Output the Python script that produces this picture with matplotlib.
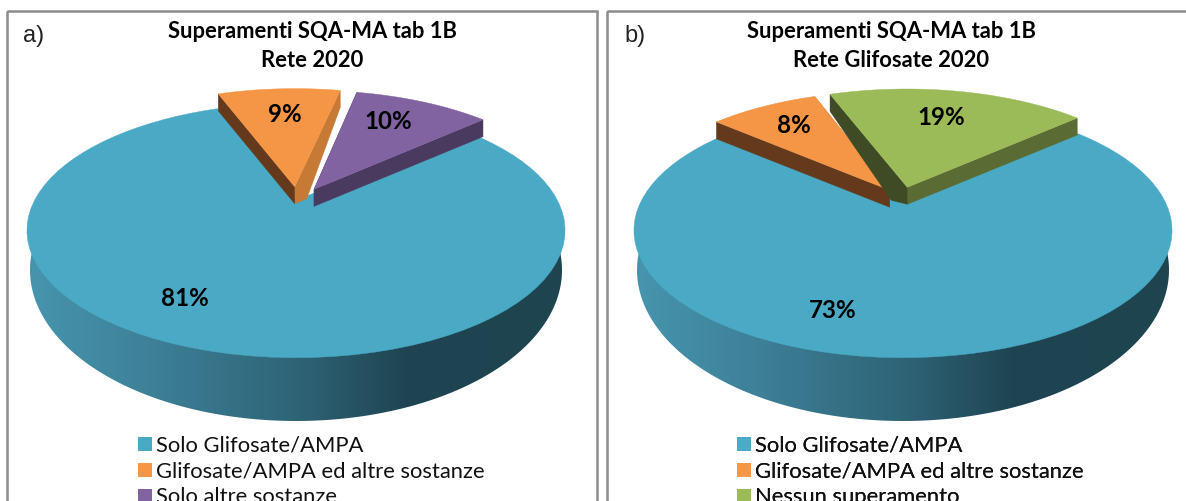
import matplotlib
matplotlib.use('Agg')
import numpy as np
from matplotlib import pyplot as plt
from matplotlib.colors import LinearSegmentedColormap
from matplotlib.patches import Polygon, Rectangle
from matplotlib.lines import Line2D

# data
labels_a = ['Solo Glifosate/AMPA', 'Glifosate/AMPA ed altre sostanze', 'Solo altre sostanze']
values_a = [81, 9, 10]
labels_b = ['Solo Glifosate/AMPA', 'Glifosate/AMPA ed altre sostanze', 'Nessun superamento']
values_b = [73, 8, 19]
title_a = 'Superamenti SQA-MA tab 1B\nRete 2020'
title_b = 'Superamenti SQA-MA tab 1B\nRete Glifosate 2020'

# top colour, left wall colour, right wall colour
BLUE = '#4AA9C4'
ORANGE = ('#F49645', '#653A1C', '#C67A36')
PURPLE = ('#8063A0', '#4B3A60', '#4B3A60')
GREEN = ('#9BBB59', '#3F4B24', '#5A6B33')

# pie geometry in pixels, perspective of the disc
SCALE_X = 264.5
SCALE_Y = 123.0
PERSP = 0.184
APEX_Y = 207
EXPLODE_Y = 0.17
DEPTH = 17


def project(cx, u, v):
    w = 1 + PERSP * v
    return cx + SCALE_X * u / w, APEX_Y - SCALE_Y * v / w


def wedge_points(cx, a1, a2, shift=(0, 0)):
    t = np.radians(np.linspace(a1, a2, 80))
    u = np.r_[shift[0], shift[0] + np.cos(t)]
    v = np.r_[shift[1], shift[1] + np.sin(t)]
    x, y = project(cx, u, v)
    return np.c_[x, y]


def draw_blue(ax, cx, a1, a2):
    # side wall: gradient clipped to the lower rim
    t = np.radians(np.linspace(0, 360, 400))
    x, y = project(cx, np.cos(t), np.sin(t))
    left, right = x.min(), x.max()
    mid_y = y[np.argmin(x)]
    s = np.radians(np.linspace(172, 368, 200))
    low_x = cx + 266 * np.cos(s)
    low_y = 270 - 151 * np.sin(s)
    pts = np.r_[[[left, mid_y]], np.c_[low_x, low_y], [[right, mid_y]]]
    wall = Polygon(pts, closed=True, facecolor='none', edgecolor='none')
    ax.add_patch(wall)
    cmap = LinearSegmentedColormap.from_list('wall', [
        (0.0, '#4695AE'), (0.22, '#3E8199'), (0.5, '#2E6477'),
        (0.7, '#1F4552'), (1.0, '#1E4450')])
    grad = np.linspace(0, 1, 256).reshape(1, -1)
    img = ax.imshow(grad, cmap=cmap, aspect='auto', zorder=1,
                    extent=(left, right, 430, 200))
    img.set_clip_path(wall)
    top = wedge_points(cx, a1, a2)
    top[0, 1] -= 7  # tuck the apex under the lifted slices so no white shows
    ax.add_patch(Polygon(top, closed=True, facecolor=BLUE,
                         edgecolor=BLUE, linewidth=0.3, zorder=2))


def draw_slice(ax, cx, a1, a2, colors, z, explode_x, left_corner=None, right_corner=None):
    # a1 > a2, slices run clockwise
    mid = np.radians((a1 + a2) / 2)
    shift = (explode_x * np.cos(mid), EXPLODE_Y * np.sin(mid))
    top_col, left_col, right_col = colors
    pts = wedge_points(cx, a1, a2, shift)
    low = pts + [0, DEPTH]
    apex, first, last = pts[0], pts[1], pts[-1]
    right_wall = [apex, last, low[-1], low[0]]
    left_wall = [apex, first, low[1], low[0]]
    # the inner face of a slice shows a little past the apex
    if right_corner:
        right_wall.insert(3, apex + right_corner)
    if left_corner:
        left_wall.insert(3, apex + left_corner)
    ax.add_patch(Polygon(right_wall, closed=True, facecolor=right_col,
                         edgecolor=right_col, linewidth=0.3, zorder=z))
    ax.add_patch(Polygon(left_wall, closed=True, facecolor=left_col,
                         edgecolor=left_col, linewidth=0.3, zorder=z))
    ax.add_patch(Polygon(pts, closed=True, facecolor=top_col, edgecolor=top_col,
                         linewidth=0.3, zorder=z + 0.5))


def draw_pie(ax, cx, values, colors, explode_x, corners, start=42.0):
    angles = np.array(values) * 3.6
    # first slice starts at `start` and goes clockwise round the pie
    a_end = start - angles[0]
    draw_blue(ax, cx, start, a_end)
    a = a_end + 360
    for i, (val, col) in enumerate(zip(angles[1:], colors)):
        draw_slice(ax, cx, a, a - val, col, 3 + i, explode_x[i], **corners[i])
        a -= val


def add_legend(ax, x, labels, colors):
    handles = [Line2D([], [], linestyle='none', marker='s', markersize=10.2,
                      markerfacecolor=c, markeredgecolor=c, markeredgewidth=0) for c in colors]
    leg = ax.legend(handles, labels, loc='upper left', bbox_to_anchor=(x, 435.5),
                    bbox_transform=ax.transData, frameon=False,
                    handletextpad=0.0, labelspacing=0.27, borderpad=0, borderaxespad=0,
                    handlelength=1.05, labelcolor='#111111',
                    prop={'family': 'Lato', 'size': 15.8})
    ax.add_artist(leg)


plt.figure(figsize=(11.86, 5.01), dpi=100)
ax = plt.axes([0, 0, 1, 1])
ax.set_xlim(0, 1186)
ax.set_ylim(501, 0)
ax.axis('off')

# panel frames, the right one runs off the picture
for x0, x1 in [(7, 597), (607, 1200)]:
    ax.add_patch(Rectangle((x0, 11), x1 - x0, 520, facecolor='none',
                           edgecolor='#8C8C8C', linewidth=1.8, zorder=0))

draw_pie(ax, 296, values_a, [ORANGE, PURPLE], [0.07, 0.14],
         [{'right_corner': (12, 12)}, {}])
draw_pie(ax, 903, values_b, [ORANGE, GREEN], [0.09, 0.07],
         [{}, {'left_corner': (-16, 13)}])

add_legend(ax, 133, labels_a, [BLUE, ORANGE[0], PURPLE[0]])
add_legend(ax, 732, labels_b, [BLUE, ORANGE[0], GREEN[0]])

# titles
for x, title in [(312.5, title_a), (891, title_b)]:
    ax.text(x, 46, title, ha='center', va='center', family='Lato', weight='bold',
            fontsize=15.8, linespacing=1.42, color='black', zorder=10)

ax.text(23, 36, 'a)', family='Liberation Sans', fontsize=17, color='#222222', va='center', zorder=10)
ax.text(624, 36, 'b)', family='Liberation Sans', fontsize=17, color='#222222', va='center', zorder=10)

# percentage labels
label_xy = [(185, 298), (285, 114), (388, 121), (833, 311), (794, 125), (941, 117)]
for (x, y), val in zip(label_xy, values_a + values_b):
    ax.text(x, y, f'{val}%', ha='center', va='center', family='Lato', weight='bold',
            fontsize=17.4, color='black', zorder=10)

plt.savefig('out.png', dpi=100)
